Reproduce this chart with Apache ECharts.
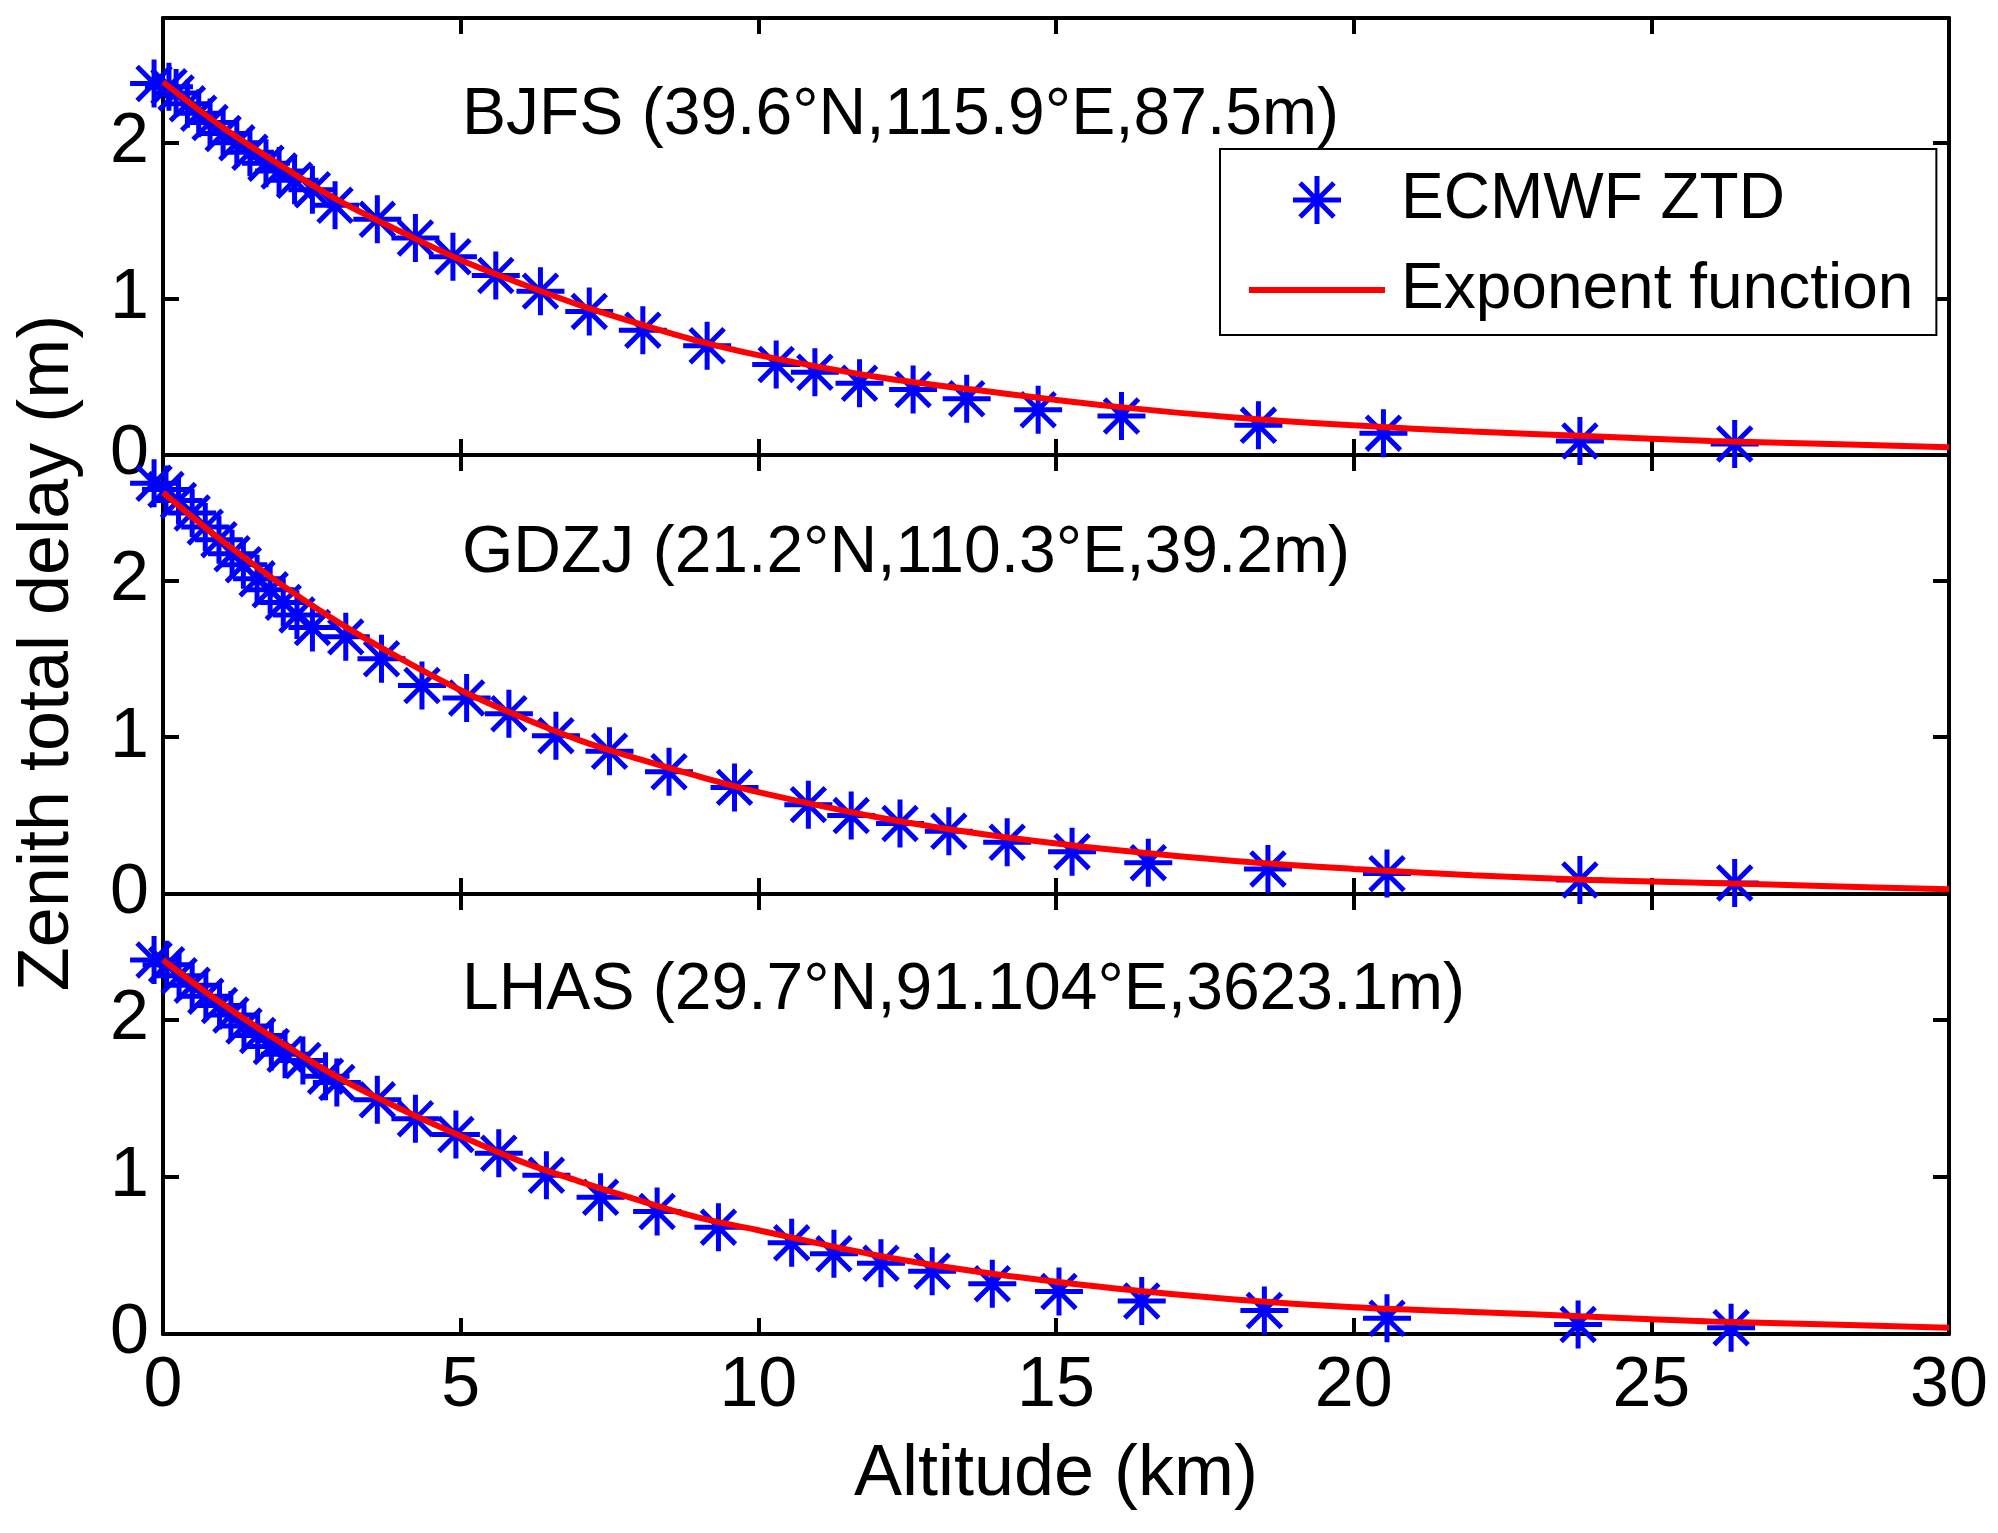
<!DOCTYPE html>
<html><head><meta charset="utf-8">
<script src="https://cdn.jsdelivr.net/npm/echarts@6/dist/echarts.min.js"></script>
<style>html,body{margin:0;padding:0;background:#fff}#c{width:1998px;height:1533px}</style>
</head><body><div id="c"></div>
<script>
// ---- data ----
const stationLabels = ['BJFS (39.6°N,115.9°E,87.5m)', 'GDZJ (21.2°N,110.3°E,39.2m)', 'LHAS (29.7°N,91.104°E,3623.1m)'];
const xTickValues = [0, 5, 10, 15, 20, 25, 30];
const yTickValues = [0, 1, 2];

const bjfsAlt = [-0.15, 0.1, 0.22, 0.41, 0.6, 0.79, 1.01, 1.24, 1.46, 1.73, 1.95, 2.21, 2.51, 2.89, 3.6, 4.24, 4.87, 5.59, 6.34, 7.16, 8.06, 9.14, 10.3, 10.95, 11.7, 12.6, 13.5, 14.7, 16.1, 18.4, 20.5, 23.8, 26.4];
const bjfsZtd = [2.38, 2.36, 2.32, 2.25, 2.19, 2.13, 2.06, 2.0, 1.94, 1.87, 1.82, 1.76, 1.70, 1.60, 1.51, 1.39, 1.27, 1.15, 1.05, 0.92, 0.80, 0.70, 0.58, 0.53, 0.46, 0.42, 0.36, 0.29, 0.25, 0.19, 0.14, 0.09, 0.07];

const gdzjAlt = [-0.15, 0.05, 0.26, 0.49, 0.71, 0.94, 1.16, 1.35, 1.58, 1.80, 2.02, 2.25, 2.51, 3.07, 3.67, 4.35, 5.1, 5.81, 6.6, 7.5, 8.5, 9.6, 10.84, 11.56, 12.38, 13.2, 14.18, 15.27, 16.55, 18.56, 20.56, 23.8, 26.4];
const gdzjZtd = [2.62, 2.58, 2.51, 2.43, 2.34, 2.26, 2.17, 2.10, 2.01, 1.94, 1.86, 1.78, 1.70, 1.64, 1.50, 1.33, 1.25, 1.15, 1.01, 0.91, 0.78, 0.68, 0.57, 0.50, 0.45, 0.40, 0.33, 0.27, 0.20, 0.16, 0.13, 0.09, 0.07];

const lhasAlt = [-0.15, 0.06, 0.27, 0.49, 0.72, 0.95, 1.14, 1.36, 1.59, 1.82, 2.05, 2.35, 2.73, 2.92, 3.6, 4.24, 4.92, 5.64, 6.44, 7.35, 8.3, 9.33, 10.56, 11.27, 12.06, 12.92, 13.93, 15.05, 16.44, 18.5, 20.56, 23.77, 26.34];
const lhasZtd = [2.38, 2.35, 2.28, 2.22, 2.15, 2.09, 2.03, 1.96, 1.90, 1.83, 1.78, 1.74, 1.64, 1.60, 1.49, 1.37, 1.27, 1.15, 1.01, 0.87, 0.78, 0.68, 0.58, 0.51, 0.45, 0.40, 0.32, 0.27, 0.21, 0.15, 0.10, 0.06, 0.04];

const fitAlt  = [0, 1, 2, 3, 4, 5, 6, 7, 8, 9, 10, 12, 14, 16, 18, 20, 22, 24, 26, 28, 30];
const bjfsFit = [2.39, 2.10, 1.85, 1.62, 1.43, 1.25, 1.10, 0.96, 0.84, 0.73, 0.64, 0.50, 0.40, 0.31, 0.24, 0.19, 0.15, 0.12, 0.09, 0.07, 0.05];
const gdzjFit = [2.56, 2.25, 1.97, 1.72, 1.50, 1.30, 1.13, 0.98, 0.86, 0.75, 0.65, 0.49, 0.37, 0.28, 0.21, 0.16, 0.12, 0.09, 0.07, 0.05, 0.03];
const lhasFit = [2.38, 2.10, 1.85, 1.62, 1.43, 1.26, 1.10, 0.97, 0.85, 0.74, 0.66, 0.50, 0.38, 0.29, 0.22, 0.17, 0.14, 0.11, 0.08, 0.06, 0.04];

const seriesNames = ['ECMWF ZTD', 'Exponent function'];
// ---------------------------------------

const FONT = '"Liberation Sans", Arial, Helvetica, sans-serif';
const STAR = 'path://M0,-10L0,10M-10,0L10,0M-7.07,-7.07L7.07,7.07M-7.07,7.07L7.07,-7.07';
const BLUE = '#0000ff', RED = '#ff0000', CLEAR = 'rgba(0,0,0,0)';
const obs = [[bjfsAlt, bjfsZtd], [gdzjAlt, gdzjZtd], [lhasAlt, lhasZtd]];
const fits = [bjfsFit, gdzjFit, lhasFit];
const zip = (a, b) => a.map((v, i) => [v, b[i]]);

const gridTops = [18, 455, 894];
const gridHeights = [437, 439, 440];
const grid = gridTops.map((t, i) => ({ left: 163, right: 49, top: t, height: gridHeights[i], show: false }));

const axLine = { show: true, onZero: false, lineStyle: { color: '#000', width: 4 } };
const axTick = { show: true, inside: true, length: 16, lineStyle: { color: '#000', width: 4 } };
const labelStyle = { color: '#000', fontSize: 70, fontFamily: FONT };

const xAxis = [], yAxis = [], series = [];
for (let i = 0; i < 3; i++) {
  ['bottom', 'top'].forEach(pos => {
    xAxis.push({
      gridIndex: i, type: 'value', position: pos, min: 0, max: 30, interval: 5,
      axisLine: axLine, axisTick: axTick, splitLine: { show: false },
      axisLabel: Object.assign({ show: pos === 'bottom' && i === 2, margin: 18,
        formatter: v => xTickValues.includes(v) ? String(v) : '' }, labelStyle)
    });
  });
  ['left', 'right'].forEach(pos => {
    yAxis.push({
      gridIndex: i, type: 'value', position: pos, min: 0, max: 2.8, interval: 1,
      axisLine: axLine, axisTick: axTick, splitLine: { show: false },
      axisLabel: Object.assign({ show: pos === 'left', margin: 14, showMaxLabel: false,
        formatter: v => yTickValues.includes(v) ? String(v) : '' }, labelStyle)
    });
  });
  series.push({
    name: seriesNames[0], type: 'scatter', xAxisIndex: 2 * i, yAxisIndex: 2 * i,
    data: zip(obs[i][0], obs[i][1]), symbol: STAR, symbolSize: 48, z: 2,
    itemStyle: { color: CLEAR, borderColor: BLUE, borderWidth: 5, opacity: 1 },
    emphasis: { disabled: true }, clip: false
  });
  series.push({
    name: seriesNames[1], type: 'line', xAxisIndex: 2 * i, yAxisIndex: 2 * i,
    data: zip(fitAlt, fits[i]), symbol: 'none', smooth: 0.35, z: 3,
    lineStyle: { color: RED, width: 6 }, emphasis: { disabled: true }
  });
}

const annoY = [116, 554, 991];
const graphic = stationLabels.map((t, i) => ({
  type: 'text', x: 462, y: annoY[i], z: 10,
  style: { text: t, fontSize: 66, fontFamily: FONT, fill: '#000', verticalAlign: 'middle', align: 'left' }
}));
graphic.push({
  type: 'text', x: 48, y: 653, rotation: Math.PI / 2, z: 10,
  style: { text: 'Zenith total delay (m)', fontSize: 72, fontFamily: FONT, fill: '#000', align: 'center', verticalAlign: 'middle' }
});
graphic.push({
  type: 'text', x: 1056, y: 1475, z: 10,
  style: { text: 'Altitude (km)', fontSize: 72, fontFamily: FONT, fill: '#000', align: 'center', verticalAlign: 'middle' }
});

const option = {
  animation: false,
  backgroundColor: '#fff',
  grid, xAxis, yAxis, series, graphic,
  legend: {
    orient: 'vertical', left: 1220, top: 149, padding: [19, 23, 13, 26],
    itemWidth: 136, itemHeight: 48, itemGap: 26, selectedMode: false,
    borderColor: '#000', borderWidth: 2, backgroundColor: '#fff', z: 20,
    textStyle: { fontSize: 64, fontFamily: FONT, color: '#000', padding: [0, 0, 0, 11] },
    data: [
      { name: seriesNames[0], icon: STAR, itemStyle: { color: CLEAR, borderColor: BLUE, borderWidth: 5 } },
      { name: seriesNames[1], icon: 'inherit', itemStyle: { color: RED, borderWidth: 0, opacity: 0 }, lineStyle: { color: RED, width: 6, opacity: 1 } }
    ]
  }
};

const chart = echarts.init(document.getElementById('c'), null, { renderer: 'canvas' });
chart.setOption(option);
</script></body></html>
